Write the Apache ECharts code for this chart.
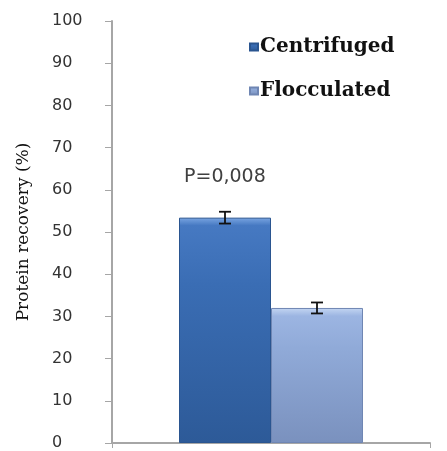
<!DOCTYPE html>
<html><head><meta charset="utf-8">
<script src="https://cdn.jsdelivr.net/npm/echarts@6/dist/echarts.min.js"></script>
<style>html,body{margin:0;padding:0;background:#fff}#c{width:447px;height:451px}</style>
</head><body><div id="c"></div>
<script>
var categories = [''];
var seriesNames = ['Centrifuged', 'Flocculated'];
var values = [53.4, 32.0];
var errors = [1.4, 1.3];
var yTicks = [0, 10, 20, 30, 40, 50, 60, 70, 80, 90, 100];
var pLabel = 'P=0,008';

var chart = echarts.init(document.getElementById('c'));
var barW = 92;
var colors = [
  new echarts.graphic.LinearGradient(0,0,0,1,[{offset:0,color:'#7aa6e2'},{offset:0.035,color:'#4679c2'},{offset:0.3,color:'#3a6db4'},{offset:1,color:'#2d5a98'}]),
  new echarts.graphic.LinearGradient(0,0,0,1,[{offset:0,color:'#c4d6f2'},{offset:0.06,color:'#9cb5e2'},{offset:0.3,color:'#90aad8'},{offset:1,color:'#7a91be'}])
];
var series = seriesNames.map(function(n,i){
  return {
    name: n, type: 'bar', data: [values[i]], barWidth: barW, barGap: '0%',
    itemStyle: {color: colors[i], borderColor: i===0?'#2a5590':'#6f86b3', borderWidth: 1}
  };
});
series.push({
  type: 'custom', silent: true, z: 10,
  data: values.map(function(v,i){return [0, v, errors[i], i];}),
  renderItem: function(params, api){
    var i = api.value(3);
    var off = (i===0 ? -0.5 : 0.5) * barW;
    var top = api.coord([0, api.value(1)+api.value(2)]);
    var bot = api.coord([0, api.value(1)-api.value(2)]);
    var x = top[0] + off;
    var st = {stroke:'#111', lineWidth:1.8};
    return {type:'group', children:[
      {type:'line', shape:{x1:x,y1:top[1],x2:x,y2:bot[1]}, style:st},
      {type:'line', shape:{x1:x-6,y1:top[1],x2:x+6,y2:top[1]}, style:st},
      {type:'line', shape:{x1:x-6,y1:bot[1],x2:x+6,y2:bot[1]}, style:st}
    ]};
  }
});
chart.setOption({
  animation: false,
  grid: {left: 112, right: 17, top: 21, bottom: 8},
  legend: {
    orient: 'vertical', left: 244, top: 32, itemGap: 24,
    itemWidth: 8, itemHeight: 7, icon: 'rect',
    data: seriesNames,
    textStyle: {fontFamily: 'DejaVu Serif', fontWeight: 'bold', fontSize: 20, color: '#111', padding:[0,0,0,-3]}
  },
  graphic: [{type:'text', left: 184, top: 168, style:{text: pLabel, font: '19px "DejaVu Sans"', fill:'#404040'}}],
  xAxis: {
    type: 'category', data: categories,
    axisLine: {lineStyle: {color: '#a6a6a6', width: 2}},
    axisTick: {show: true, length: 5, lineStyle:{color:'#a6a6a6'}},
    axisLabel: {show: false}
  },
  yAxis: {
    type: 'value', min: yTicks[0], max: yTicks[yTicks.length-1], interval: 10,
    name: 'Protein recovery (%)', nameLocation: 'middle', nameGap: 80, nameRotate: 90,
    nameTextStyle: {fontFamily: 'DejaVu Serif', fontSize: 17, color: '#111'},
    axisLine: {show: true, lineStyle: {color: '#a6a6a6', width: 2}},
    axisTick: {show: true, length: 7, lineStyle: {color: '#a6a6a6'}},
    axisLabel: {fontFamily: 'DejaVu Sans', fontSize: 16, color: '#333', margin: 60, align: 'left'},
    splitLine: {show: false}
  },
  series: series
});
</script></body></html>
